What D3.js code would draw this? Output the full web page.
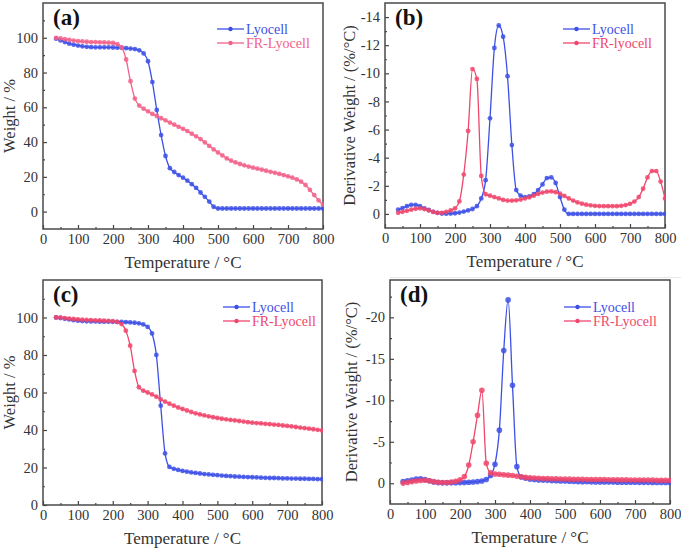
<!DOCTYPE html>
<html><head><meta charset="utf-8">
<script src="https://cdn.jsdelivr.net/npm/d3@7"></script>
<style>
body{margin:0;background:#fff}
svg{display:block}
</style>
</head><body>
<svg id="chart" width="681" height="551"></svg>
<script>
// ---- shared x samples (°C) ----
const temps = [37.5,50,62.5,75,87.5,100,112.5,125,137.5,150,
  162.5,175,187.5,200,212.5,225,237.5,250,262.5,275,
  287.5,300,312.5,325,337.5,350,362.5,375,387.5,400,
  412.5,425,437.5,450,462.5,475,487.5,500,512.5,525,
  537.5,550,562.5,575,587.5,600,612.5,625,637.5,650,
  662.5,675,687.5,700,712.5,725,737.5,750,762.5,775,
  787.5,800];

// ---- (a) TGA, weight % ----
const a_lyocell = [99.5,98.5,97.5,96.6,96,95.5,95.1,94.8,94.6,94.5,
  94.5,94.5,94.5,94.4,94.3,94.2,94,93.8,93.5,92.8,
  91,86.5,74.5,58.5,44,32,25,22.8,21,19.5,
  17.8,15.8,13.6,11,8.5,5.8,2.8,1.8,1.8,1.8,
  1.8,1.8,1.8,1.8,1.8,1.8,1.8,1.8,1.8,1.8,
  1.8,1.8,1.8,1.8,1.8,1.8,1.8,1.8,1.8,1.8,
  1.8,1.8];
const a_frlyocell = [99.9,99.6,99.2,98.8,98.4,98.1,97.9,97.7,97.5,97.5,
  97.4,97.3,97.2,97,96.3,94.5,87.5,75,65,61,
  59.2,57.7,56.2,55,53.7,52.5,51.2,50,48.8,47.6,
  46.3,44.8,43.3,41.7,39.8,37.8,35.8,34,32.3,30.6,
  29.3,28.3,27.4,26.6,25.9,25.3,24.7,24.1,23.5,22.9,
  22.3,21.7,21,20.3,19.5,18.5,17.2,15.3,12.5,9.5,
  6.5,4];

// ---- (b) DTG, %/°C ----
const b_lyocell = [-0.3,-0.42,-0.55,-0.65,-0.65,-0.55,-0.4,-0.28,-0.15,-0.07,
  -0.03,-0.02,-0.03,-0.05,-0.1,-0.17,-0.25,-0.35,-0.55,-1.1,
  -2.4,-6.8,-11.8,-13.4,-12.6,-9.8,-4.9,-1.7,-1.3,-1.2,
  -1.25,-1.4,-1.7,-2.1,-2.55,-2.6,-2.2,-1.2,-0.3,0,
  0,0,0,0,0,0,0,0,0,0,
  0,0,0,0,0,0,0,0,0,0,
  0,0];
const b_frlyocell = [-0.08,-0.15,-0.22,-0.3,-0.37,-0.4,-0.35,-0.25,-0.15,-0.08,
  -0.08,-0.15,-0.25,-0.4,-0.9,-2.8,-5.9,-10.3,-9.6,-2.7,
  -1.4,-1.3,-1.2,-1.1,-1.0,-0.95,-0.95,-0.97,-1.02,-1.1,
  -1.18,-1.3,-1.42,-1.52,-1.58,-1.6,-1.55,-1.45,-1.28,-1.1,
  -0.95,-0.82,-0.73,-0.66,-0.61,-0.58,-0.56,-0.55,-0.55,-0.55,
  -0.55,-0.58,-0.63,-0.72,-0.88,-1.2,-1.8,-2.6,-3.05,-3.05,
  -2.3,-1.1];

// ---- (c) TGA, weight % ----
const c_lyocell = [100,99.7,99.3,99,98.6,98.3,98.1,98,97.9,97.9,
  97.8,97.8,97.8,97.7,97.7,97.6,97.5,97.4,97.2,96.9,
  96.3,95,91.5,80,53,27.5,20.3,19.3,18.7,18.2,
  17.8,17.4,17.1,16.8,16.5,16.3,16.1,15.9,15.7,15.5,
  15.4,15.2,15.1,15,14.9,14.8,14.7,14.6,14.5,14.4,
  14.4,14.3,14.2,14.2,14.1,14.1,14,14,13.9,13.9,
  13.8,13.8];
const c_frlyocell = [100,100,99.7,99.4,99.2,99,98.8,98.7,98.6,98.5,
  98.4,98.3,98.2,98.1,97.6,96.5,93,85,71.5,62.8,
  61,60,59,57.8,56.3,55.1,54,53,52,51.2,
  50.4,49.6,48.9,48.3,47.8,47.3,46.8,46.4,46,45.7,
  45.4,45.1,44.8,44.5,44.2,43.9,43.7,43.5,43.3,43.1,
  42.9,42.7,42.4,42.2,41.9,41.6,41.3,41,40.7,40.4,
  40.1,39.8];

// ---- (d) DTG, %/°C ----
const d_lyocell = [-0.2,-0.3,-0.4,-0.5,-0.55,-0.45,-0.3,-0.15,-0.08,-0.05,
  -0.05,-0.05,-0.07,-0.08,-0.1,-0.12,-0.15,-0.2,-0.28,-0.45,
  -0.95,-2.3,-6.4,-16,-22.1,-11.8,-2.0,-0.75,-0.6,-0.5,
  -0.45,-0.4,-0.38,-0.35,-0.32,-0.3,-0.28,-0.26,-0.24,-0.22,
  -0.2,-0.19,-0.18,-0.17,-0.16,-0.15,-0.15,-0.14,-0.14,-0.13,
  -0.13,-0.12,-0.12,-0.12,-0.11,-0.11,-0.11,-0.1,-0.1,-0.1,
  -0.1,-0.1];
const d_frlyocell = [-0.02,-0.1,-0.2,-0.28,-0.34,-0.36,-0.3,-0.2,-0.13,-0.1,
  -0.1,-0.14,-0.25,-0.42,-0.8,-2.2,-5,-8.2,-11.2,-2.4,
  -1.25,-1.12,-1.08,-1.03,-0.98,-0.93,-0.85,-0.77,-0.71,-0.67,
  -0.64,-0.61,-0.58,-0.56,-0.54,-0.53,-0.52,-0.51,-0.5,-0.49,
  -0.48,-0.47,-0.46,-0.46,-0.45,-0.45,-0.44,-0.43,-0.43,-0.42,
  -0.41,-0.41,-0.4,-0.4,-0.39,-0.39,-0.38,-0.38,-0.37,-0.37,
  -0.36,-0.36];

// ---- ticks & labels ----
const xTicks = [0,100,200,300,400,500,600,700,800];
const xMinor = [50,150,250,350,450,550,650,750];
const tgaTicks = [0,20,40,60,80,100];
const tgaMinor = [10,30,50,70,90,110];
const bTicks = [0,-2,-4,-6,-8,-10,-12,-14];
const bMinor = [-1,-3,-5,-7,-9,-11,-13];
const dTicks = [0,-5,-10,-15,-20];
const dMinor = [-2.5,-7.5,-12.5,-17.5,-22.5];
const xTitle = "Temperature / °C";
const tgaTitle = "Weight / %";
const dtgTitle = "Derivative Weight / (%/°C)";

const BLUE = "#3d50e6";
const RED = "#f0466c";
const PINK = "#f2628a";
const FONT = "'Liberation Serif'";

const svg = d3.select("#chart");

svg.append("line").attr("x1",390).attr("x2",681).attr("y1",277.5).attr("y2",277.5)
  .attr("stroke","#e8e8e8").attr("stroke-width",1);

const panels = [
  {tag:"(a)", x0:43, x1:323, y0:3, y1:229, yDom:[-10,120], yT:tgaTicks, yM:tgaMinor, ytitle:tgaTitle, ytx:15,
   series:[{name:"Lyocell", v:a_lyocell, c:BLUE},{name:"FR-Lyocell", v:a_frlyocell, c:PINK}],
   leg:{x:217, y:29}, r:2.4},
  {tag:"(b)", x0:385, x1:665, y0:3, y1:228, yDom:[1,-15], yT:bTicks, yM:bMinor, ytitle:dtgTitle, ytx:355,
   series:[{name:"Lyocell", v:b_lyocell, c:BLUE},{name:"FR-lyocell", v:b_frlyocell, c:RED}],
   leg:{x:563, y:29}, r:2.4},
  {tag:"(c)", x0:43, x1:322, y0:280, y1:505, yDom:[0,120], yT:tgaTicks, yM:tgaMinor, ytitle:tgaTitle, ytx:15,
   series:[{name:"Lyocell", v:c_lyocell, c:BLUE},{name:"FR-Lyocell", v:c_frlyocell, c:RED}],
   leg:{x:223, y:307}, r:2.4},
  {tag:"(d)", x0:390, x1:670, y0:280, y1:504, yDom:[2.5,-24.5], yT:dTicks, yM:dMinor, ytitle:dtgTitle, ytx:357,
   series:[{name:"Lyocell", v:d_lyocell, c:BLUE},{name:"FR-Lyocell", v:d_frlyocell, c:RED}],
   leg:{x:564, y:307}, r:2.8}
];

panels.forEach(p => {
  const g = svg.append("g");
  const x = d3.scaleLinear().domain([0,800]).range([p.x0,p.x1]);
  const y = d3.scaleLinear().domain(p.yDom).range([p.y1,p.y0]);

  const clipId = "clip" + p.tag.replace(/\W/g,"");
  svg.append("clipPath").attr("id",clipId).append("rect")
    .attr("x",p.x0-1).attr("y",p.y0).attr("width",p.x1-p.x0+2).attr("height",p.y1-p.y0);

  const fmt = d => String(d);
  const xa = g.append("g").attr("transform",`translate(0,${p.y1})`)
    .call(d3.axisBottom(x).tickValues(xTicks).tickSize(-4).tickSizeOuter(0).tickPadding(5).tickFormat(fmt));
  const xm = g.append("g").attr("transform",`translate(0,${p.y1})`)
    .call(d3.axisBottom(x).tickValues(xMinor).tickSize(-2).tickSizeOuter(0).tickFormat(""));
  const ya = g.append("g").attr("transform",`translate(${p.x0},0)`)
    .call(d3.axisLeft(y).tickValues(p.yT).tickSize(-4).tickSizeOuter(0).tickPadding(5).tickFormat(fmt));
  const ym = g.append("g").attr("transform",`translate(${p.x0},0)`)
    .call(d3.axisLeft(y).tickValues(p.yM).tickSize(-2).tickSizeOuter(0).tickFormat(""));
  [xa,xm,ya,ym].forEach(a => {
    a.attr("font-family",null).attr("font-size",null);
    a.select(".domain").remove();
    a.selectAll("line").attr("stroke","#444").attr("stroke-width",1.2);
    a.selectAll("text").style("font-family",FONT).style("font-size","14.5px").style("fill","#333");
  });

  g.append("rect").attr("x",p.x0).attr("y",p.y0).attr("width",p.x1-p.x0).attr("height",p.y1-p.y0)
    .attr("fill","none").attr("stroke","#4a4a4a").attr("stroke-width",1.5);

  g.append("text").attr("x",(p.x0+p.x1)/2).attr("y",p.y1+39).attr("text-anchor","middle")
    .style("font-family",FONT).style("font-size","17px").style("fill","#333").text(xTitle);
  g.append("text").attr("transform",`translate(${p.ytx},${(p.y0+p.y1)/2}) rotate(-90)`)
    .style("font-family",FONT).attr("text-anchor","middle").style("font-size","16.5px").style("fill","#333").text(p.ytitle);
  g.append("text").attr("x",p.x0+10).attr("y",p.y0+22).style("font-size","23px").style("font-weight","bold")
    .style("font-family",FONT).style("fill","#111").text(p.tag);

  const line = d3.line().x((d,i)=>x(temps[i])).y(d=>y(d)).curve(d3.curveMonotoneX);
  const sg = g.append("g").attr("clip-path",`url(#${clipId})`);
  p.series.forEach(s => {
    sg.append("path").datum(s.v).attr("d",line).attr("fill","none")
      .attr("stroke",s.c).attr("stroke-width",1.3);
    sg.selectAll(null).data(s.v).enter().append("circle")
      .attr("cx",(d,i)=>x(temps[i])).attr("cy",d=>y(d)).attr("r",p.r)
      .attr("fill",s.c).attr("fill-opacity",0.85);
  });

  p.series.forEach((s,k) => {
    const ly = p.leg.y + k*14;
    g.append("line").attr("x1",p.leg.x).attr("x2",p.leg.x+27).attr("y1",ly).attr("y2",ly)
      .attr("stroke",s.c).attr("stroke-width",1.3);
    g.append("circle").attr("cx",p.leg.x+13.5).attr("cy",ly).attr("r",2.2).attr("fill",s.c);
    g.append("text").attr("x",p.leg.x+29).attr("y",ly+4.5).style("font-size","14px")
      .style("font-family",FONT).style("fill",s.c).text(s.name);
  });
});
</script>
</body></html>
